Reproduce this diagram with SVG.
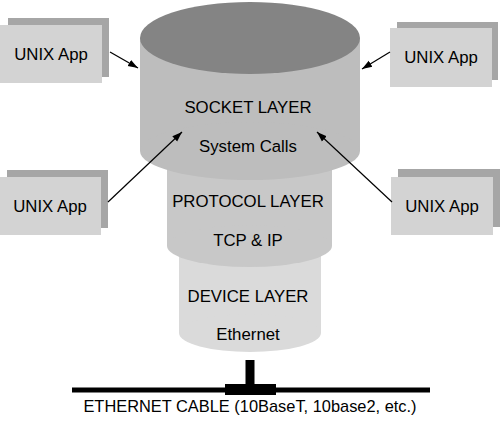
<svg xmlns="http://www.w3.org/2000/svg" width="500" height="421" viewBox="0 0 500 421">
<defs>
<style>
text{font-family:"Liberation Sans",Arial,sans-serif;font-size:16.8px;fill:#000;text-anchor:middle}
.shadow{fill:#a6a6a6}
.front{fill:#d3d3d3}
.conn{stroke:#000;stroke-width:1.2;fill:none}
</style>
<marker id="ah" viewBox="0 0 10 10" refX="10" refY="5" markerWidth="10" markerHeight="10" markerUnits="userSpaceOnUse" orient="auto">
<path d="M0,1.5 L10,5 L0,8.5 Z" fill="#000"/>
</marker>
</defs>
<rect width="500" height="421" fill="#fff"/>
<g id="device-layer">
<rect x="179" y="240" width="142" height="93" fill="#dadada"/>
<ellipse cx="250" cy="333" rx="71" ry="19" fill="#dadada"/>
<text x="248" y="302">DEVICE LAYER</text>
<text x="248" y="340">Ethernet</text>
</g>
<g id="protocol-layer">
<rect x="167" y="150" width="165" height="96" fill="#c8c8c8"/>
<ellipse cx="249.5" cy="246" rx="82.5" ry="21" fill="#c8c8c8"/>
<text x="248" y="207">PROTOCOL LAYER</text>
<text x="248" y="246">TCP &amp; IP</text>
</g>
<g id="socket-layer">
<rect x="140" y="38" width="220" height="113" fill="#bdbdbd"/>
<ellipse cx="250" cy="151" rx="110" ry="29" fill="#bdbdbd"/>
<ellipse cx="250" cy="38" rx="110" ry="36" fill="#848484"/>
<text x="248" y="113">SOCKET LAYER</text>
<text x="248" y="152">System Calls</text>
</g>
<g id="app-top-left">
<rect class="shadow" x="8" y="18" width="101" height="59"/>
<rect class="front" x="0" y="25" width="102" height="58"/>
<text x="51" y="60">UNIX App</text>
</g>
<g id="app-bottom-left">
<rect class="shadow" x="7" y="170" width="101" height="58"/>
<rect class="front" x="0" y="177" width="101" height="58"/>
<text x="50" y="212">UNIX App</text>
</g>
<g id="app-top-right">
<rect class="shadow" x="397" y="22" width="101" height="58"/>
<rect class="front" x="390" y="28" width="102" height="59"/>
<text x="441" y="63">UNIX App</text>
</g>
<g id="app-bottom-right">
<rect class="shadow" x="398" y="169" width="102" height="58"/>
<rect class="front" x="391" y="177" width="102" height="58"/>
<text x="442" y="212">UNIX App</text>
</g>
<g id="connectors">
<line class="conn" x1="110" y1="52" x2="138" y2="68" marker-end="url(#ah)"/>
<line class="conn" x1="108" y1="202" x2="182" y2="132" marker-end="url(#ah)"/>
<line class="conn" x1="390" y1="52" x2="362" y2="69" marker-end="url(#ah)"/>
<line class="conn" x1="392" y1="202" x2="317" y2="132" marker-end="url(#ah)"/>
</g>
<g id="ethernet-cable">
<rect x="245.5" y="360" width="9" height="26" fill="#000"/>
<rect x="72" y="387.5" width="358" height="5" fill="#000"/>
<rect x="225" y="384" width="51" height="11" fill="#000"/>
<text x="250" y="412" style="font-size:16.4px">ETHERNET CABLE (10BaseT, 10base2, etc.)</text>
</g>
</svg>
